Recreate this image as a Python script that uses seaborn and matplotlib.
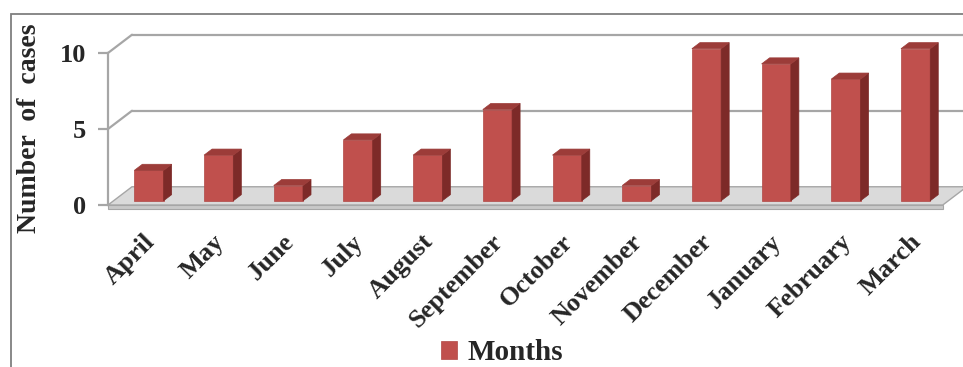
import matplotlib
matplotlib.use("Agg")
import matplotlib.pyplot as plt
import seaborn as sns
import pandas as pd
from matplotlib.patches import Polygon, Rectangle
from matplotlib.transforms import ScaledTranslation

months = ["April", "May", "June", "July", "August", "September",
          "October", "November", "December", "January", "February", "March"]
cases = [2, 3, 1, 4, 3, 6, 3, 1, 10, 9, 8, 10]
y_ticks = [0, 5, 10]
legend_label = "Months"

df = pd.DataFrame({"month": months, "cases": cases})

sns.set_style("white")
plt.rcParams["font.family"] = ["Liberation Serif", "DejaVu Serif"]
plt.rcParams["font.weight"] = "bold"

fig = plt.figure(figsize=(9.63, 3.67), dpi=100)
W, H = 963, 367
ax = fig.add_axes([108 / W, (H - 212) / H, 855 / W, 187 / H])

front = "#c0504d"
side = "#7d2a28"
top = "#9c3c39"

sns.barplot(data=df, x="month", y="cases", order=months, color=front,
            width=0.42, saturation=1, label=legend_label, ax=ax, zorder=3)

xmin, xmax = -0.588, 11.68
ax.set_xlim(xmin, xmax)
ax.set_ylim(-0.46, 11.84)

# 3D look: depth offsets (data units)
wdx, wdy = 0.344, 1.2     # wall / floor depth
bdx, bdy = 0.115, 0.4     # bar depth
base = 0.28               # bars stand a little back on the floor
floor_right = 11.39
grid_c = "#a6a6a6"

# back wall gridlines
for v in [5, 10]:
    ax.plot([xmin, xmin + wdx], [v, v + wdy], color=grid_c, lw=1.6, zorder=1, clip_on=False)
    ax.plot([xmin + wdx, floor_right + wdx], [v + wdy, v + wdy], color=grid_c, lw=1.6,
            zorder=1, clip_on=False)

# floor slab
ax.add_patch(Polygon([(xmin, 0), (floor_right, 0), (floor_right + wdx, wdy),
                      (xmin + wdx, wdy)], closed=True, facecolor="#dadada",
                     edgecolor="#a6a6a6", lw=1.0, zorder=1.5, clip_on=False))
ax.add_patch(Polygon([(xmin, 0), (floor_right, 0), (floor_right, -0.25),
                      (xmin, -0.25)], closed=True, facecolor="#c8c8c8",
                     edgecolor="#a6a6a6", lw=0.8, zorder=1.5, clip_on=False))

# extrude the bars
for p in list(ax.patches):
    if p.get_facecolor()[:3] == matplotlib.colors.to_rgb(front):
        x0 = p.get_x()
        w = p.get_width()
        h = p.get_height()
        p.set_y(base)
        p.set_edgecolor("#b04744")
        p.set_linewidth(0.5)
        y0, y1 = base, base + h
        ax.add_patch(Polygon([(x0 + w, y0), (x0 + w + bdx, y0 + bdy),
                              (x0 + w + bdx, y1 + bdy), (x0 + w, y1)],
                             closed=True, facecolor=side, edgecolor=side, lw=0.5, zorder=3))
        ax.add_patch(Polygon([(x0, y1), (x0 + bdx, y1 + bdy), (x0 + w + bdx, y1 + bdy),
                              (x0 + w, y1)], closed=True, facecolor=top,
                             edgecolor=top, lw=0.5, zorder=3))

# axes styling
for s in ["top", "right", "bottom"]:
    ax.spines[s].set_visible(False)
ax.spines["left"].set_bounds(0, 10)
ax.spines["left"].set_color(grid_c)
ax.spines["left"].set_linewidth(1.6)
ax.spines["left"].set_zorder(2)
ax.set_yticks(y_ticks)
ax.set_yticklabels([str(t) for t in y_ticks], fontsize=19, fontweight="bold")
ax.tick_params(axis="y", length=7, width=1.6, color=grid_c, pad=9, left=True)
ax.set_xticks(range(len(months)))
ax.set_xticklabels(months, rotation=45, ha="right", va="top", rotation_mode="anchor",
                   fontsize=19, fontweight="bold")
ax.tick_params(axis="x", length=0, pad=13)
shift = ScaledTranslation(-6 / 100, 0, fig.dpi_scale_trans)
for lab in ax.get_xticklabels():
    lab.set_transform(lab.get_transform() + shift)
ax.set_xlabel("")
ax.set_ylabel("")
ax.patch.set_alpha(0)

fig.text(30 / W, 1 - 128 / H, "Number  of  cases", rotation=90, ha="center",
         va="center", fontsize=20, fontweight="bold")

leg = ax.legend(loc="center", bbox_to_anchor=(502 / W, 1 - 353 / H),
                bbox_transform=fig.transFigure, frameon=False,
                prop={"size": 21, "weight": "bold"}, handlelength=0.55,
                handleheight=0.55, handletextpad=0.35)

# outer chart border
fig.patches.append(Rectangle((11 / W, -0.1), 1.2, (H - 14) / H + 0.1,
                             transform=fig.transFigure, fill=False,
                             edgecolor="#7f7f7f", lw=1.3))

fig.savefig("out.png", dpi=100)
